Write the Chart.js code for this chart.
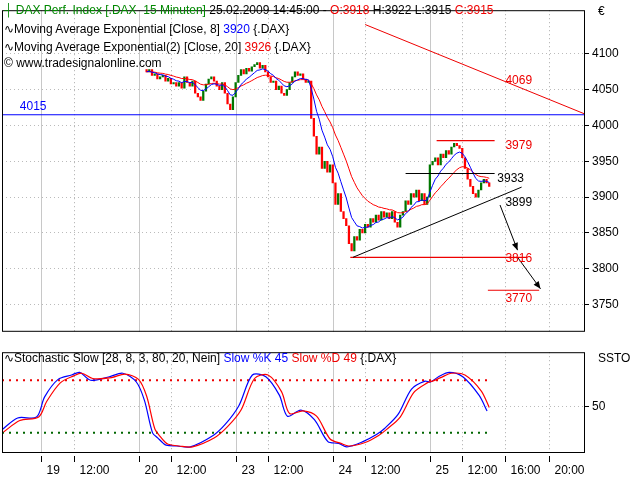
<!DOCTYPE html>
<html><head><meta charset="utf-8">
<script src="https://cdn.jsdelivr.net/npm/chart.js@4"></script>
<style>
body{margin:0;background:#fff;width:640px;height:480px;overflow:hidden;position:relative;font-family:"Liberation Sans",Arial,sans-serif;font-size:12px}
canvas{position:absolute;left:0}
.t{position:absolute;white-space:nowrap;font-size:12px;line-height:14px;background:transparent}
</style></head><body>
<canvas id="c1" width="640" height="342" style="top:0"></canvas>
<canvas id="c2" width="640" height="138" style="top:342px"></canvas>
<div class="t" style="left:4px;top:3px"><span style="color:#080">┤ DAX Perf. Index [.DAX&nbsp; 15 Minuten]</span> 25.02.2009 14:45:00 - <span style="color:#e00">O:3918</span> H:3922 L:3915 <span style="color:#e00">C:3915</span></div>
<div class="t" style="left:4px;top:22px">∿Moving Average Exponential [Close, 8] <span style="color:#00f">3920</span> {.DAX}</div>
<div class="t" style="left:4px;top:40px">∿Moving Average Exponential(2) [Close, 20] <span style="color:#e00">3926</span> {.DAX}</div>
<div class="t" style="left:4px;top:56px">© www.tradesignalonline.com</div>
<div class="t" style="left:4px;top:351px">∿Stochastic Slow [28, 8, 3, 80, 20, Nein] <span style="color:#00f">Slow %K 45</span> <span style="color:#e00">Slow %D 49</span> {.DAX}</div>
<div class="t" style="left:598px;top:4px">€</div>
<div class="t" style="left:598px;top:351px">SSTO</div>
<script>
// bar positions: 36 quarter-hour slots per day, day 19 starts at 0
const firstBarPos = 39;
const closes = [
4075,4078,4070,4072,4065,4068, 4070,4062,4066,4058,4060,4055, 4060,4052,4068,4060,4055,4062,
4045,4040,4035,4048,4058,4065, 4068,4062,4055,4050,4060,4045, 4030,4022,4040,
4060,4070,4078,4072,4080,4076, 4082,4085,4088,4080,4084,4075, 4068,4060,4062,4050,4055,4045,
4042,4050,4060,4068,4075,4070, 4072,4065,4060,4062,4010,3985, 3960,3970,3940,3950,3935,3945,
3920,3890,3905,3880,3870,3860, 3835,3825,3845,3840,3855,3850, 3862,3858,3870,3865,3875,3868,
3880,3872,3878,3870,3880,3865, 3858,3875,3880,3895,3890,3905, 3900,3910,3895,3905,3890,3900,
3945,3950,3955,3945,3960,3955, 3965,3960,3970,3975,3972,3968, 3955,3940,3925,3915,3905,3900,
3910,3920,3925,3920,3915];
const tickPos = [0,12,36,48,72,84,108,120,144,156,172,188];
const tickLabels = ["19","12:00","20","12:00","23","12:00","24","12:00","25","12:00","16:00","20:00"];
const dayStarts = [0,36,72,108,144];
const priceTicks = [3750,3800,3850,3900,3950,4000,4050,4100];
const stochPos = [-14,-8,-1,2,7,12,15,19,26,31,36,39,42,44,46,47,51,56,64,69,74,79,84,89,92,97,102,107,111,114,120,125,128,133,138,143,145,148,152,157,163,166];
const stochK = [23,37,38,61,81,86,89,80,84,88,78,57,20,14,8,6,5,4,16,30,51,86,84,63,39,46,35,10,8,4,10,18,25,41,70,79,78,84,89,84,63,45];
const stochD = [21,34,38,56,77,85,88,82,83,87,81,62,25,16,9,7,5,4,14,27,46,82,86,67,42,45,39,13,8,5,9,17,24,38,66,77,79,83,88,86,68,49];
const xMin=-14.6, xMax=201.5;

const pos = closes.map((c,i)=>firstBarPos+i);
const bars = closes.map((c,i)=>({x:pos[i], y:[i?closes[i-1]:c+3, c]}));
function ema(n){const k=2/(n+1);let e=closes[0];return closes.map((c,i)=>{e=i?c*k+e*(1-k):c;return {x:pos[i],y:e};});}

const axisW = s=>{s.width=55;};
const vgrid = {id:'vg',beforeDatasetsDraw(ch){const {ctx,chartArea:a,scales:{x}}=ch;ctx.save();
 tickPos.forEach((p,i)=>{const px=Math.round(x.getPixelForValue(p))+0.5;ctx.beginPath();
  if(dayStarts.includes(p)){ctx.setLineDash([]);ctx.strokeStyle='#c8c8c8';}else{ctx.setLineDash([1,3]);ctx.strokeStyle='#aaa';}
  ctx.moveTo(px,a.top);ctx.lineTo(px,a.bottom);ctx.stroke();});ctx.restore();},
 afterDraw(ch){const {ctx,chartArea:a}=ch;ctx.save();ctx.strokeStyle='#000';ctx.lineWidth=1;ctx.strokeRect(a.left+0.5,a.top+0.5,a.right-a.left-1,a.bottom-a.top-1);ctx.restore();}};

// annotations
const blueLevel=[{x:xMin,y:4015},{x:xMax,y:4015}];
const redTrend=[{x:120,y:4141},{x:201.5,y:4016}];
const r3979=[{x:146.5,y:3979},{x:168,y:3979}];
const b3933=[{x:135,y:3933},{x:168,y:3933}];
const trendUp=[{x:115.5,y:3816},{x:178,y:3914}];
const r3816=[{x:114.5,y:3816},{x:180,y:3816}];
const r3770=[{x:165.5,y:3770},{x:184.5,y:3770}];
const arrow1=[{x:170,y:3889},{x:176.5,y:3826}];
const arrow2=[{x:176.5,y:3816},{x:185,y:3772}];
const labels=[["4015",-8,4026,'#00f'],["4069",172,4063,'#e00'],["3979",172,3972,'#e00'],["3933",169,3926,'#000'],["3899",172,3892,'#000'],["3816",172,3814,'#e00'],["3770",172,3758,'#e00']];
const lab={id:'lab',afterDatasetsDraw(ch){const {ctx,scales:{x,y}}=ch;ctx.save();ctx.font='12px "Liberation Sans",Arial';ctx.textBaseline='middle';
 labels.forEach(l=>{ctx.fillStyle=l[3];ctx.fillText(l[0],x.getPixelForValue(l[1]),y.getPixelForValue(l[2]));});
 [arrow1,arrow2].forEach(ar=>{const x1=x.getPixelForValue(ar[0].x),y1=y.getPixelForValue(ar[0].y),x2=x.getPixelForValue(ar[1].x),y2=y.getPixelForValue(ar[1].y);
  const an=Math.atan2(y2-y1,x2-x1);ctx.fillStyle='#000';ctx.beginPath();ctx.moveTo(x2,y2);ctx.lineTo(x2-8*Math.cos(an-0.4),y2-8*Math.sin(an-0.4));ctx.lineTo(x2-8*Math.cos(an+0.4),y2-8*Math.sin(an+0.4));ctx.closePath();ctx.fill();});
 ctx.restore();}};
const ln=(d,c,w,dash)=>({type:'line',data:d,borderColor:c,borderWidth:w||1,pointRadius:0,borderDash:dash||[],tension:0,order:0});

new Chart(document.getElementById('c1'),{type:'bar',
 data:{datasets:[
  {data:bars,barThickness:1.6,backgroundColor:c=>{const v=c.raw&&c.raw.y;return v&&v[1]<v[0]?'#f00':'#070';},grouped:false,order:3},
  {type:'line',data:ema(20),borderColor:'#f00',borderWidth:1,pointRadius:0,order:2},
  {type:'line',data:ema(8),borderColor:'#00f',borderWidth:1,pointRadius:0,order:1},
  ln(blueLevel,'#00f',1.2),ln(redTrend,'#e00'),ln(r3979,'#e00',1.2),ln(b3933,'#000',1.2),ln(trendUp,'#000'),ln(r3816,'#e00',1.2),ln(r3770,'#e00',1.2),ln(arrow1,'#000'),ln(arrow2,'#000')]},
 options:{responsive:false,animation:false,events:[],layout:{padding:{left:2,top:0}},
  plugins:{legend:{display:false},tooltip:{enabled:false}},
  scales:{x:{type:'linear',min:xMin,max:xMax,offset:false,display:false},
   y:{position:'right',min:3712,max:4161,afterFit:axisW,afterBuildTicks:s=>{s.ticks=priceTicks.map(v=>({value:v}));},
    ticks:{callback:v=>String(v),color:'#000',font:{size:12,family:'"Liberation Sans",Arial'},padding:3},
    grid:{color:'#bbb',tickColor:'#000',tickLength:4},border:{dash:[1,3],display:false}}}},
 plugins:[vgrid,lab]});

const xt={id:'xt',afterDraw(ch){const {ctx,chartArea:a,scales:{x}}=ch;ctx.save();ctx.font='12px "Liberation Sans",Arial';ctx.fillStyle='#000';ctx.textBaseline='top';
 tickPos.forEach((p,i)=>{const px=Math.round(x.getPixelForValue(p))+0.5;ctx.beginPath();ctx.moveTo(px,a.bottom+3);ctx.lineTo(px,a.bottom+9);ctx.strokeStyle='#000';ctx.stroke();
  ctx.fillText(tickLabels[i],px+5,a.bottom+12);});ctx.restore();}};
new Chart(document.getElementById('c2'),{type:'line',
 data:{datasets:[
  {data:stochPos.map((p,i)=>({x:p,y:stochD[i]})),borderColor:'#f00',borderWidth:1.2,pointRadius:0,tension:0.3},
  {data:stochPos.map((p,i)=>({x:p-0.8,y:stochK[i]})),borderColor:'#00f',borderWidth:1.2,pointRadius:0,tension:0.3},
  ln([{x:xMin,y:80},{x:166,y:80}],'#e00',2,[2,5]),ln([{x:xMin,y:20},{x:166,y:20}],'#060',2,[2,5])]},
 options:{responsive:false,animation:false,events:[],layout:{padding:{left:2,top:8,bottom:27}},
  plugins:{legend:{display:false},tooltip:{enabled:false}},
  scales:{x:{type:'linear',min:xMin,max:xMax,display:false},
   y:{position:'right',min:-3,max:112,afterFit:axisW,afterBuildTicks:s=>{s.ticks=[{value:50}];},
    ticks:{color:'#000',font:{size:12,family:'"Liberation Sans",Arial'},padding:3},
    grid:{color:'#bbb',tickColor:'#000',tickLength:4},border:{dash:[1,3],display:false}}}},
 plugins:[vgrid,xt]});
</script></body></html>
